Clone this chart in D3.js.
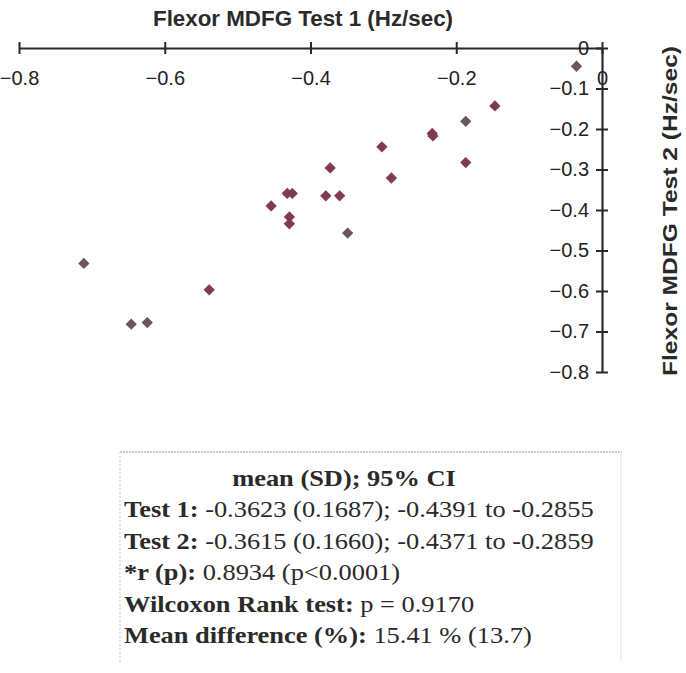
<!DOCTYPE html>
<html>
<head>
<meta charset="utf-8">
<script src="https://cdn.jsdelivr.net/npm/d3@7"></script>
<style>
  body { margin: 0; background: #fff; }
  svg { display: block; }
</style>
</head>
<body>
<div id="chart"></div>
<script>
// Test 1 vs Test 2 values (Hz/sec)
const test1 = [-0.711, -0.646, -0.624, -0.539, -0.454, -0.432, -0.425, -0.429, -0.429, -0.379, -0.373,
  -0.360, -0.349, -0.302, -0.289, -0.233, -0.232, -0.187, -0.187, -0.147, -0.035];
const test2 = [-0.532, -0.682, -0.678, -0.597, -0.390, -0.359, -0.359, -0.417, -0.434, -0.365, -0.296,
  -0.365, -0.457, -0.244, -0.321, -0.211, -0.217, -0.181, -0.283, -0.143, -0.045];
// scanned marker tone: 1 = grey, 0 = maroon
const tone = [1, 1, 1, 0, 0, 0, 0, 0, 0, 0, 0, 0, 1, 0, 0, 0, 0, 1, 0, 0, 1];
const xTicks = [-0.8, -0.6, -0.4, -0.2, 0];
const yTicks = [0, -0.1, -0.2, -0.3, -0.4, -0.5, -0.6, -0.7, -0.8];
const statsTitle = 'mean (SD); 95% CI';
const statsLabels = ['Test 1: ', 'Test 2: ', '*r (p): ', 'Wilcoxon Rank test: ', 'Mean difference (%): '];
const statsValues = ['-0.3623 (0.1687); -0.4391 to -0.2855', '-0.3615 (0.1660); -0.4371 to -0.2859',
  '0.8934 (p<0.0001)', 'p = 0.9170', '15.41 % (13.7)'];

const width = 686, height = 673;
const svg = d3.select('#chart').append('svg')
  .attr('width', width)
  .attr('height', height);

const x = d3.scaleLinear().domain([-0.8, 0]).range([19, 602]);
const y = d3.scaleLinear().domain([0, -0.8]).range([48, 372]);

const axisColor = '#2a2a2a';
const sans = 'Arial, "Liberation Sans", sans-serif';
const serif = '"Times New Roman", "Liberation Serif", serif';

// top x axis
const gx = svg.append('g')
  .attr('transform', `translate(0,${y(0)})`)
  .call(d3.axisBottom(x).tickValues(xTicks).tickFormat(d3.format('')).tickSizeOuter(0));
gx.select('.domain').attr('stroke', axisColor).attr('stroke-width', 2.2);
gx.selectAll('.tick line').attr('y1', -6).attr('y2', 6).attr('stroke', axisColor).attr('stroke-width', 2);
gx.selectAll('.tick text')
  .attr('y', 30).attr('dy', '0.35em')
  .style('font-family', sans).style('font-size', '20px').attr('fill', '#222');

// right y axis
const gy = svg.append('g')
  .attr('transform', `translate(${x(0)},0)`)
  .call(d3.axisLeft(y).tickValues(yTicks).tickFormat(d3.format('')).tickSizeOuter(0));
gy.select('.domain').attr('stroke', axisColor).attr('stroke-width', 2.2);
gy.selectAll('.tick line').attr('x1', -6).attr('x2', 6).attr('stroke', axisColor).attr('stroke-width', 2);
gy.selectAll('.tick text')
  .attr('x', -13)
  .style('font-family', sans).style('font-size', '20px').attr('fill', '#222');

// axis titles
svg.append('text')
  .attr('x', 303).attr('y', 26)
  .attr('text-anchor', 'middle')
  .attr('textLength', 300).attr('lengthAdjust', 'spacingAndGlyphs')
  .style('font-family', sans).style('font-size', '22px').style('font-weight', 'bold')
  .attr('fill', '#2a2a2a')
  .text('Flexor MDFG Test 1 (Hz/sec)');

svg.append('text')
  .attr('transform', 'translate(677,211) rotate(-90)')
  .attr('text-anchor', 'middle')
  .attr('textLength', 330).attr('lengthAdjust', 'spacingAndGlyphs')
  .style('font-family', sans).style('font-size', '21px').style('font-weight', 'bold')
  .attr('fill', '#2a2a2a')
  .text('Flexor MDFG Test 2 (Hz/sec)');

// points
const diamond = d3.symbol().type(d3.symbolSquare).size(64);
svg.append('g').selectAll('path')
  .data(test1.map((v, i) => ({ a: v, b: test2[i], t: tone[i] })))
  .join('path')
  .attr('d', diamond)
  .attr('transform', d => `translate(${x(d.a)},${y(d.b)}) rotate(45)`)
  .attr('fill', d => d.t ? '#6b5660' : '#803a58');

// stats box
const box = svg.append('g');
box.append('line')
  .attr('x1', 120).attr('x2', 622).attr('y1', 452).attr('y2', 452)
  .attr('stroke', '#999').attr('stroke-dasharray', '2,1');
box.append('line')
  .attr('x1', 120).attr('x2', 120).attr('y1', 452).attr('y2', 662)
  .attr('stroke', '#ccc').attr('stroke-dasharray', '2,2');
box.append('line')
  .attr('x1', 621).attr('x2', 621).attr('y1', 452).attr('y2', 662)
  .attr('stroke', '#e4e4e4');

box.append('text')
  .attr('transform', 'translate(344,486) scale(1.1,1)')
  .attr('text-anchor', 'middle')
  .style('font-family', serif).style('font-size', '24px').style('font-weight', 'bold')
  .attr('fill', '#2a2a2a')
  .text(statsTitle);

statsLabels.forEach((lab, i) => {
  const t = box.append('text')
    .attr('transform', `translate(124,${517 + i * 31.6}) scale(1.1,1)`)
    .style('font-family', serif).style('font-size', '24px')
    .attr('fill', '#2a2a2a');
  t.append('tspan').style('font-weight', 'bold').text(lab);
  t.append('tspan').text(statsValues[i]);
});
</script>
</body>
</html>
